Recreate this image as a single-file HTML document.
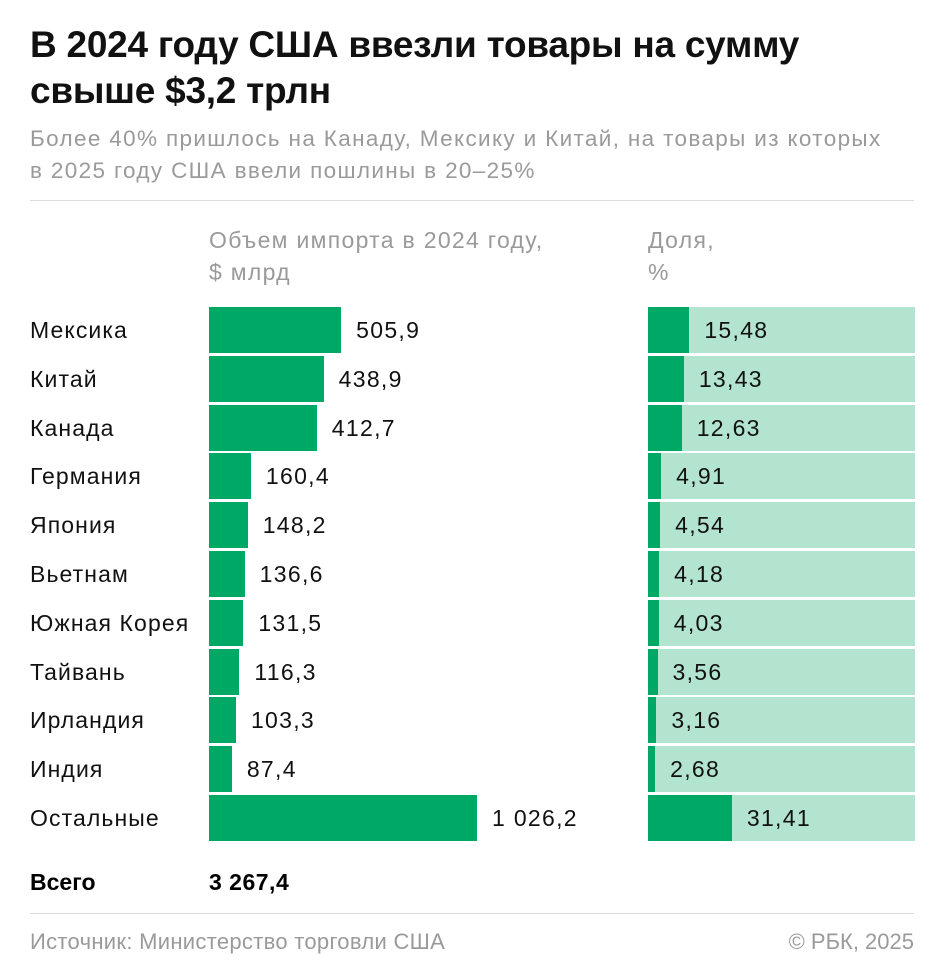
<!DOCTYPE html>
<html><head><meta charset="utf-8"><style>
body{margin:0;background:#fff;font-family:"Liberation Sans","DejaVu Sans",sans-serif;}
.w{position:relative;width:945px;height:980px;overflow:hidden}
.a{position:absolute;white-space:nowrap}
h1{position:absolute;left:30px;top:22px;margin:0;font-size:37px;line-height:46px;font-weight:bold;color:#111;letter-spacing:-0.25px}
.sub{left:30px;top:123px;font-size:22.5px;line-height:32px;color:#9a9a9a;letter-spacing:1.35px}
.hr{position:absolute;left:30px;width:884px;height:1px;background:#ddd}
.hd{font-size:23px;line-height:32px;color:#9a9a9a;letter-spacing:1.3px}
.lab{left:30px;font-size:23px;color:#111;line-height:46px;letter-spacing:1.1px}
.bar{position:absolute;left:209px;height:46px;background:#00a866}
.val{font-size:23px;color:#111;line-height:46px;letter-spacing:1.3px}
.bg{position:absolute;left:648px;width:267px;height:46px;background:#b3e4d0}
.fg{position:absolute;left:0;top:0;height:46px;background:#00a866}
</style></head><body><div class="w">
<h1>В 2024 году США ввезли товары на сумму<br>свыше $3,2 трлн</h1>
<div class="a sub">Более 40% пришлось на Канаду, Мексику и Китай, на товары из которых<br>в 2025 году США ввели пошлины в 20–25%</div>
<div class="hr" style="top:200px"></div>
<div class="a hd" style="left:209px;top:224px">Объем импорта в 2024 году,<br>$ млрд</div>
<div class="a hd" style="left:648px;top:224px">Доля,<br>%</div>
<div id="rows"></div>
<div class="a" style="left:30px;top:866px;font-size:23px;font-weight:bold;line-height:32px">Всего</div>
<div class="a" style="left:209px;top:866px;font-size:23px;font-weight:bold;line-height:32px;letter-spacing:0.5px">3 267,4</div>
<div class="hr" style="top:913px"></div>
<div class="a" style="left:30px;top:927px;font-size:22px;color:#9a9a9a;line-height:30px;letter-spacing:0.3px">Источник: Министерство торговли США</div>
<div class="a" style="right:31px;top:927px;font-size:22px;color:#9a9a9a;line-height:30px">© РБК, 2025</div>
<script>
var d=[["Мексика",505.9,"505,9",15.48,"15,48"],["Китай",438.9,"438,9",13.43,"13,43"],["Канада",412.7,"412,7",12.63,"12,63"],["Германия",160.4,"160,4",4.91,"4,91"],["Япония",148.2,"148,2",4.54,"4,54"],["Вьетнам",136.6,"136,6",4.18,"4,18"],["Южная Корея",131.5,"131,5",4.03,"4,03"],["Тайвань",116.3,"116,3",3.56,"3,56"],["Ирландия",103.3,"103,3",3.16,"3,16"],["Индия",87.4,"87,4",2.68,"2,68"],["Остальные",1026.2,"1 026,2",31.41,"31,41"]];
var h="";d.forEach(function(r,i){var y=307+i*48.8;var w=r[1]*0.2612;var p=r[3]*2.67;
h+='<div class="a lab" style="top:'+y+'px">'+r[0]+'</div>';
h+='<div class="bar" style="top:'+y+'px;width:'+w+'px"></div>';
h+='<div class="a val" style="left:'+(209+w+15)+'px;top:'+y+'px">'+r[2]+'</div>';
h+='<div class="bg" style="top:'+y+'px"><div class="fg" style="width:'+p+'px"></div><div class="a val" style="left:'+(p+15)+'px;top:0">'+r[4]+'</div></div>';});
document.getElementById("rows").innerHTML=h;
</script>
</div></body></html>
